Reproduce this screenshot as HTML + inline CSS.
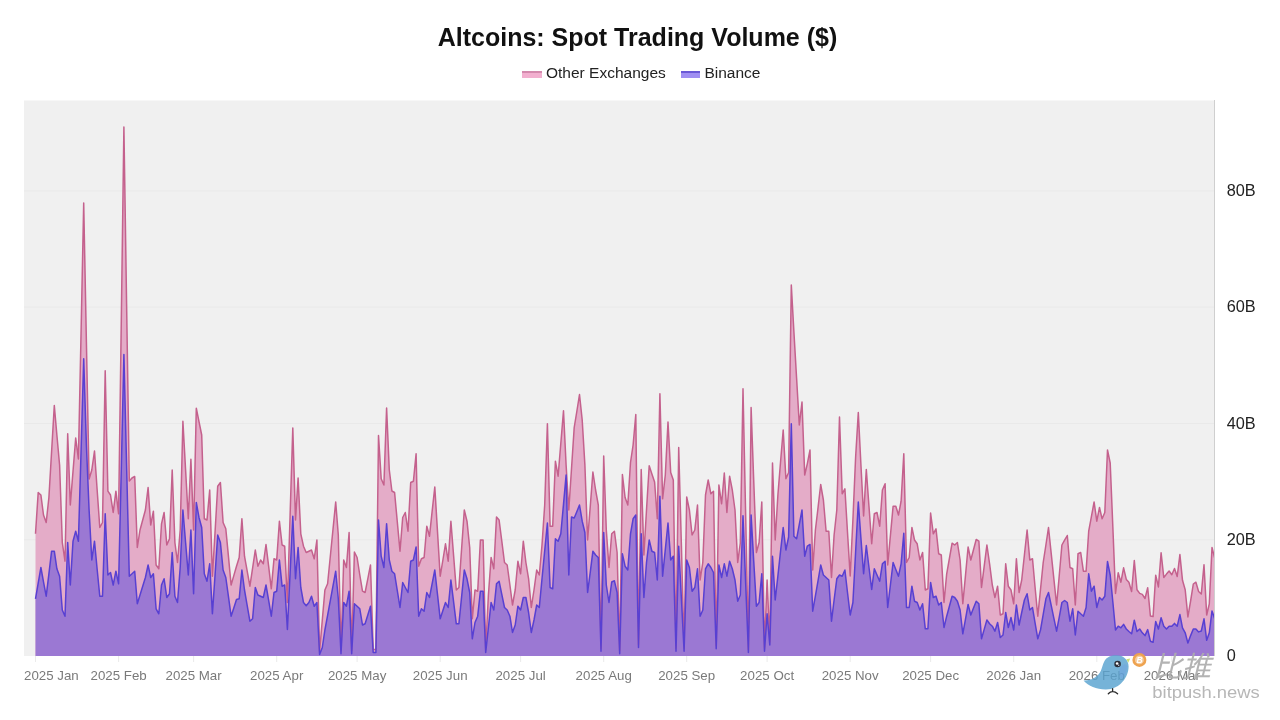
<!DOCTYPE html>
<html><head><meta charset="utf-8"><title>Altcoins: Spot Trading Volume ($)</title>
<style>
html,body{margin:0;padding:0;background:#fff;}
body{width:1280px;height:720px;position:relative;overflow:hidden;font-family:"Liberation Sans",sans-serif;}
.title{position:absolute;left:0;width:1275px;top:20.6px;text-align:center;font-size:25px;font-weight:bold;color:#111;letter-spacing:0px;line-height:32px;}
.legend{position:absolute;top:62.7px;left:522.3px;font-size:15.5px;color:#222;line-height:20px;white-space:nowrap;}
.legend span.sw{display:inline-block;width:19.5px;height:7px;vertical-align:middle;margin-right:4.2px;margin-top:2px;box-sizing:border-box;}
.xl{position:absolute;top:668.2px;font-size:13.3px;color:#7a7a7a;white-space:nowrap;line-height:16px;}
.xl.c{transform:translateX(-50%);}
.yl{position:absolute;left:1226.7px;font-size:16.3px;color:#222;line-height:20px;}
.wm{position:absolute;color:#b5b5b5;}
</style></head><body>
<svg width="1280" height="720" viewBox="0 0 1280 720" style="position:absolute;left:0;top:0">
<rect x="24" y="100.5" width="1190.5" height="555.5" fill="#f0f0f0"/>
<line x1="24" x2="1214" y1="539.8" y2="539.8" stroke="#e9e9e9" stroke-width="1"/>
<line x1="24" x2="1214" y1="423.5" y2="423.5" stroke="#e9e9e9" stroke-width="1"/>
<line x1="24" x2="1214" y1="307.2" y2="307.2" stroke="#e9e9e9" stroke-width="1"/>
<line x1="24" x2="1214" y1="191.0" y2="191.0" stroke="#e9e9e9" stroke-width="1"/>
<defs><clipPath id="cp"><rect x="24" y="100" width="1190.3" height="557"/></clipPath></defs><g clip-path="url(#cp)">
<path d="M35.5 533.8L38.2 492.5L40.9 495.0L43.5 515.0L46.2 522.5L48.9 497.5L51.6 451.5L54.3 405.5L56.9 435.2L59.6 465.0L62.3 542.5L65.0 561.2L67.7 433.8L70.3 505.0L73.0 471.5L75.7 438.0L78.4 459.0L81.1 331.0L83.7 203.0L86.4 342.0L89.1 479.0L91.8 470.0L94.5 451.0L97.1 489.2L99.8 527.5L102.5 522.5L105.2 370.8L107.9 491.2L110.5 495.0L113.2 512.5L115.9 491.2L118.6 513.8L121.3 320.4L123.9 127.0L126.6 304.0L129.3 481.0L132.0 478.0L134.7 476.5L137.3 547.5L140.0 530.0L142.7 520.0L145.4 510.0L148.1 487.5L150.7 525.0L153.4 511.2L156.1 565.0L158.8 568.8L161.5 523.8L164.1 512.5L166.8 545.0L169.5 538.8L172.2 470.0L174.9 542.5L177.5 562.5L180.2 530.0L182.9 421.2L185.6 470.0L188.3 518.8L190.9 459.2L193.6 530.0L196.3 408.2L199.0 421.6L201.7 435.0L204.3 518.8L207.0 520.0L209.7 490.0L212.4 576.2L215.1 531.2L217.7 486.2L220.4 482.5L223.1 522.5L225.8 528.8L228.5 556.9L231.1 585.0L233.8 575.6L236.5 566.2L239.2 557.5L241.9 518.8L244.5 556.2L247.2 571.2L249.9 586.2L252.6 568.1L255.3 550.0L257.9 566.2L260.6 560.0L263.3 563.8L266.0 544.5L268.7 566.6L271.3 588.8L274.0 558.8L276.7 560.0L279.4 521.2L282.1 545.0L284.7 546.2L287.4 602.5L290.1 515.2L292.8 428.0L295.5 520.0L298.1 478.0L300.8 533.8L303.5 546.2L306.2 552.5L308.9 551.2L311.5 550.0L314.2 558.8L316.9 540.0L319.6 651.5L322.3 620.0L324.9 590.0L327.6 583.8L330.3 556.5L333.0 529.2L335.7 502.0L338.3 535.0L341.0 650.8L343.7 560.0L346.4 567.5L349.1 532.5L351.7 650.8L354.4 552.0L357.1 557.5L359.8 575.0L362.5 591.2L365.1 592.5L367.8 578.8L370.5 565.0L373.2 649.5L375.9 649.5L378.5 435.5L381.2 478.8L383.9 485.0L386.6 408.0L389.3 470.0L391.9 491.0L394.6 492.5L397.3 521.9L400.0 551.2L402.7 517.5L405.3 512.5L408.0 531.2L410.7 482.5L413.4 481.2L416.1 453.8L418.7 566.2L421.4 558.8L424.1 557.5L426.8 526.2L429.5 536.2L432.1 511.6L434.8 487.0L437.5 531.6L440.2 576.2L442.9 560.0L445.5 543.8L448.2 561.2L450.9 521.2L453.6 555.6L456.3 590.0L458.9 587.5L461.6 548.8L464.3 510.0L467.0 521.2L469.7 547.5L472.3 618.8L475.0 590.0L477.7 591.2L480.4 540.0L483.1 540.0L485.7 649.5L488.4 595.0L491.1 557.5L493.8 568.8L496.5 517.0L499.1 520.0L501.8 541.2L504.5 562.5L507.2 565.0L509.9 585.0L512.5 605.0L515.2 590.0L517.9 561.2L520.6 573.8L523.3 541.2L525.9 562.5L528.6 578.8L531.3 607.5L534.0 590.0L536.7 570.0L539.3 575.0L542.0 545.0L544.7 505.0L547.4 423.8L550.1 526.2L552.7 526.2L555.4 461.2L558.1 476.2L560.8 443.5L563.5 410.8L566.1 465.0L568.8 510.0L571.5 468.8L574.2 427.5L576.9 411.0L579.5 394.5L582.2 420.0L584.9 465.0L587.6 540.0L590.3 506.0L592.9 472.0L595.6 490.0L598.3 505.0L601.0 648.2L603.7 456.0L606.3 530.0L609.0 567.5L611.7 533.8L614.4 531.2L617.1 552.5L619.7 650.8L622.4 474.5L625.1 497.5L627.8 505.0L630.5 462.5L633.1 445.0L635.8 414.5L638.5 644.5L641.2 469.5L643.9 555.0L646.5 510.0L649.2 465.8L651.9 473.9L654.6 482.0L657.3 518.8L659.9 393.8L662.6 498.8L665.3 475.0L668.0 422.0L670.7 472.5L673.3 480.0L676.0 648.2L678.7 447.5L681.4 545.2L684.1 648.2L686.7 497.0L689.4 510.0L692.1 535.0L694.8 530.0L697.5 505.0L700.1 580.0L702.8 562.5L705.5 495.0L708.2 480.0L710.9 493.8L713.5 491.2L716.2 645.8L718.9 485.0L721.6 503.8L724.3 473.0L726.9 512.5L729.6 476.2L732.3 490.0L735.0 510.0L737.7 562.5L740.3 543.0L743.0 388.8L745.7 516.9L748.4 649.5L751.1 407.5L753.7 480.0L756.4 552.5L759.1 542.5L761.8 502.0L764.5 648.2L767.1 580.0L769.8 642.0L772.5 463.0L775.2 540.0L777.9 495.0L780.5 462.5L783.2 430.0L785.9 478.8L788.6 472.5L791.3 285.0L793.9 331.7L796.6 378.3L799.3 425.0L802.0 402.0L804.7 475.0L807.3 463.8L810.0 450.0L812.7 570.0L815.4 530.0L818.1 507.2L820.7 484.5L823.4 500.0L826.1 531.2L828.8 531.2L831.5 577.5L834.1 535.0L836.8 510.0L839.5 417.0L842.2 493.8L844.9 488.8L847.5 532.4L850.2 576.0L852.9 520.0L855.6 457.5L858.3 412.5L860.9 464.2L863.6 516.0L866.3 469.5L869.0 506.6L871.7 543.8L874.3 513.8L877.0 512.5L879.7 526.2L882.4 490.0L885.1 483.8L887.7 565.0L890.4 535.6L893.1 506.2L895.8 506.2L898.5 515.0L901.1 501.2L903.8 453.8L906.5 562.5L909.2 557.5L911.9 527.5L914.5 540.0L917.2 543.8L919.9 560.0L922.6 552.5L925.3 590.0L927.9 588.8L930.6 513.0L933.3 533.8L936.0 528.8L938.7 553.8L941.3 555.0L944.0 602.5L946.7 573.8L949.4 558.5L952.1 543.2L954.7 545.0L957.4 542.5L960.1 560.0L962.8 603.8L965.5 575.4L968.1 547.0L970.8 560.0L973.5 549.8L976.2 539.5L978.9 541.2L981.5 587.5L984.2 566.2L986.9 545.0L989.6 563.8L992.3 585.0L994.9 597.5L997.6 586.2L1000.3 615.0L1003.0 613.8L1005.7 563.8L1008.3 586.2L1011.0 590.0L1013.7 603.8L1016.4 558.8L1019.1 592.5L1021.7 580.0L1024.4 555.0L1027.1 530.0L1029.8 560.0L1032.5 558.8L1035.1 587.5L1037.8 616.2L1040.5 589.4L1043.2 562.5L1045.9 545.0L1048.5 527.5L1051.2 553.3L1053.9 579.2L1056.6 605.0L1059.3 575.0L1061.9 545.0L1064.6 540.2L1067.3 535.5L1070.0 567.5L1072.7 568.8L1075.3 605.0L1078.0 553.8L1080.7 552.5L1083.4 571.2L1086.1 571.2L1088.7 531.2L1091.4 516.6L1094.1 502.0L1096.8 521.2L1099.5 507.5L1102.1 518.8L1104.8 512.5L1107.5 450.0L1110.2 463.0L1112.9 528.2L1115.5 593.4L1118.2 572.8L1120.9 582.2L1123.6 567.8L1126.3 579.4L1128.9 582.2L1131.6 591.5L1134.3 560.6L1137.0 589.7L1139.7 593.4L1142.3 594.4L1145.0 598.5L1147.7 587.8L1150.4 616.0L1153.1 616.5L1155.7 575.2L1158.4 586.9L1161.1 552.8L1163.8 577.5L1166.5 574.1L1169.1 571.0L1171.8 574.7L1174.5 568.5L1177.2 576.5L1179.9 554.6L1182.5 580.3L1185.2 589.7L1187.9 616.9L1190.6 601.0L1193.3 584.0L1195.9 582.2L1198.6 591.5L1201.3 594.0L1204.0 564.8L1206.7 615.0L1209.3 603.8L1212.0 547.5L1214.7 558.0L1214.7 656L35.5 656Z" fill="#e4acc8" stroke="none"/>
<path d="M35.5 598.8L38.2 583.1L40.9 567.5L43.5 581.9L46.2 596.2L48.9 573.8L51.6 551.2L54.3 551.2L56.9 568.8L59.6 576.2L62.3 610.0L65.0 616.2L67.7 542.5L70.3 585.0L73.0 541.2L75.7 531.2L78.4 541.2L81.1 450.0L83.7 358.8L86.4 445.0L89.1 510.0L91.8 560.0L94.5 541.2L97.1 568.8L99.8 596.2L102.5 596.2L105.2 513.8L107.9 575.0L110.5 572.5L113.2 585.0L115.9 571.2L118.6 583.8L121.3 469.1L123.9 354.5L126.6 465.4L129.3 576.2L132.0 573.8L134.7 571.2L137.3 603.8L140.0 595.0L142.7 586.2L145.4 577.5L148.1 565.0L150.7 577.5L153.4 573.8L156.1 608.8L158.8 613.8L161.5 585.0L164.1 578.8L166.8 597.5L169.5 593.8L172.2 552.5L174.9 596.2L177.5 602.5L180.2 567.5L182.9 510.0L185.6 542.5L188.3 575.0L190.9 530.0L193.6 593.8L196.3 502.5L199.0 517.5L201.7 527.5L204.3 573.8L207.0 581.2L209.7 563.8L212.4 613.8L215.1 574.4L217.7 535.0L220.4 542.5L223.1 570.0L225.8 577.5L228.5 596.9L231.1 616.2L233.8 607.9L236.5 599.5L239.2 598.8L241.9 570.0L244.5 590.0L247.2 605.6L249.9 621.2L252.6 618.8L255.3 587.5L257.9 595.0L260.6 596.2L263.3 597.5L266.0 585.0L268.7 600.6L271.3 616.2L274.0 592.5L276.7 591.2L279.4 560.0L282.1 586.2L284.7 585.0L287.4 629.5L290.1 572.9L292.8 516.2L295.5 578.8L298.1 547.5L300.8 587.5L303.5 602.5L306.2 605.8L308.9 602.5L311.5 596.2L314.2 606.2L316.9 602.5L319.6 654.5L322.3 647.5L324.9 630.0L327.6 615.3L330.3 600.6L333.0 585.9L335.7 571.2L338.3 598.8L341.0 653.8L343.7 602.5L346.4 606.2L349.1 591.2L351.7 653.8L354.4 603.8L357.1 606.2L359.8 608.8L362.5 625.0L365.1 623.8L367.8 615.0L370.5 606.2L373.2 652.5L375.9 652.5L378.5 520.0L381.2 556.2L383.9 567.5L386.6 523.8L389.3 560.0L391.9 571.2L394.6 573.8L397.3 590.6L400.0 607.5L402.7 582.5L405.3 587.5L408.0 592.5L410.7 561.2L413.4 560.0L416.1 547.0L418.7 616.2L421.4 608.8L424.1 611.2L426.8 592.5L429.5 597.5L432.1 583.8L434.8 570.0L437.5 594.4L440.2 618.8L442.9 610.6L445.5 602.5L448.2 607.5L450.9 580.0L453.6 601.9L456.3 623.8L458.9 623.8L461.6 596.9L464.3 570.0L467.0 578.8L469.7 592.5L472.3 638.8L475.0 622.5L477.7 616.2L480.4 591.2L483.1 591.2L485.7 652.5L488.4 627.5L491.1 602.5L493.8 610.0L496.5 583.8L499.1 581.2L501.8 594.4L504.5 607.5L507.2 610.0L509.9 616.2L512.5 632.5L515.2 625.0L517.9 606.2L520.6 610.0L523.3 597.5L525.9 597.5L528.6 612.5L531.3 632.5L534.0 620.0L536.7 605.0L539.3 607.5L542.0 578.8L544.7 550.9L547.4 523.0L550.1 587.5L552.7 588.8L555.4 538.8L558.1 541.2L560.8 533.8L563.5 504.4L566.1 475.0L568.8 575.0L571.5 517.0L574.2 518.0L576.9 511.5L579.5 505.0L582.2 521.2L584.9 532.5L587.6 592.5L590.3 571.9L592.9 551.2L595.6 555.0L598.3 557.5L601.0 651.2L603.7 532.5L606.3 585.0L609.0 602.5L611.7 582.0L614.4 580.8L617.1 592.5L619.7 653.8L622.4 553.8L625.1 566.2L627.8 570.0L630.5 533.8L633.1 518.8L635.8 515.0L638.5 647.5L641.2 533.8L643.9 597.5L646.5 562.5L649.2 540.0L651.9 551.2L654.6 552.5L657.3 580.0L659.9 496.2L662.6 576.2L665.3 549.6L668.0 523.0L670.7 560.0L673.3 556.2L676.0 651.2L678.7 546.2L681.4 598.8L684.1 651.2L686.7 560.0L689.4 567.5L692.1 591.2L694.8 587.5L697.5 568.8L700.1 616.2L702.8 610.0L705.5 568.8L708.2 563.8L710.9 567.5L713.5 572.5L716.2 648.8L718.9 565.0L721.6 577.5L724.3 563.8L726.9 576.2L729.6 561.2L732.3 568.8L735.0 580.0L737.7 601.2L740.3 595.0L743.0 515.8L745.7 584.1L748.4 652.5L751.1 515.0L753.7 560.6L756.4 606.2L759.1 602.5L761.8 573.8L764.5 651.2L767.1 613.8L769.8 645.0L772.5 556.2L775.2 600.0L777.9 575.8L780.5 551.7L783.2 527.5L785.9 550.0L788.6 537.0L791.3 423.8L793.9 536.2L796.6 538.8L799.3 524.4L802.0 510.0L804.7 556.2L807.3 546.2L810.0 544.5L812.7 611.2L815.4 595.8L818.1 580.4L820.7 565.0L823.4 575.0L826.1 577.5L828.8 580.0L831.5 621.2L834.1 600.0L836.8 578.8L839.5 575.0L842.2 576.2L844.9 570.0L847.5 592.5L850.2 615.0L852.9 602.5L855.6 552.2L858.3 502.0L860.9 537.9L863.6 573.8L866.3 545.5L869.0 567.5L871.7 589.5L874.3 568.8L877.0 575.0L879.7 581.2L882.4 563.8L885.1 561.2L887.7 607.5L890.4 585.0L893.1 562.5L895.8 569.4L898.5 576.2L901.1 563.8L903.8 533.2L906.5 607.5L909.2 607.5L911.9 586.2L914.5 601.2L917.2 602.5L919.9 610.0L922.6 603.8L925.3 628.8L927.9 628.8L930.6 582.5L933.3 597.5L936.0 596.2L938.7 605.0L941.3 602.5L944.0 627.5L946.7 616.2L949.4 606.2L952.1 596.2L954.7 597.5L957.4 601.2L960.1 610.0L962.8 633.8L965.5 619.1L968.1 604.5L970.8 615.0L973.5 608.1L976.2 601.2L978.9 603.8L981.5 638.8L984.2 629.4L986.9 620.0L989.6 623.8L992.3 626.2L994.9 631.2L997.6 622.5L1000.3 637.5L1003.0 635.0L1005.7 612.5L1008.3 627.5L1011.0 617.5L1013.7 630.0L1016.4 605.0L1019.1 625.0L1021.7 612.5L1024.4 600.0L1027.1 593.8L1029.8 610.0L1032.5 607.5L1035.1 623.1L1037.8 638.8L1040.5 630.0L1043.2 614.4L1045.9 598.8L1048.5 592.5L1051.2 605.4L1053.9 618.3L1056.6 631.2L1059.3 616.9L1061.9 602.5L1064.6 600.5L1067.3 602.5L1070.0 621.2L1072.7 608.8L1075.3 635.0L1078.0 611.2L1080.7 613.8L1083.4 616.2L1086.1 607.5L1088.7 573.8L1091.4 591.2L1094.1 586.2L1096.8 607.5L1099.5 597.5L1102.1 600.0L1104.8 596.2L1107.5 561.5L1110.2 575.0L1112.9 602.5L1115.5 630.0L1118.2 626.2L1120.9 627.8L1123.6 624.4L1126.3 629.0L1128.9 631.5L1131.6 633.8L1134.3 620.2L1137.0 631.5L1139.7 629.0L1142.3 632.8L1145.0 635.6L1147.7 629.6L1150.4 641.2L1153.1 642.2L1155.7 621.5L1158.4 629.0L1161.1 617.8L1163.8 626.2L1166.5 629.0L1169.1 626.2L1171.8 626.2L1174.5 623.4L1177.2 626.2L1179.9 614.6L1182.5 627.8L1185.2 632.8L1187.9 643.1L1190.6 635.6L1193.3 629.0L1195.9 629.0L1198.6 631.9L1201.3 631.0L1204.0 618.8L1206.7 640.3L1209.3 632.8L1212.0 610.9L1214.7 618.8L1214.7 656L35.5 656Z" fill="#9b78d3" stroke="none"/>
<path d="M35.5 533.8L38.2 492.5L40.9 495.0L43.5 515.0L46.2 522.5L48.9 497.5L51.6 451.5L54.3 405.5L56.9 435.2L59.6 465.0L62.3 542.5L65.0 561.2L67.7 433.8L70.3 505.0L73.0 471.5L75.7 438.0L78.4 459.0L81.1 331.0L83.7 203.0L86.4 342.0L89.1 479.0L91.8 470.0L94.5 451.0L97.1 489.2L99.8 527.5L102.5 522.5L105.2 370.8L107.9 491.2L110.5 495.0L113.2 512.5L115.9 491.2L118.6 513.8L121.3 320.4L123.9 127.0L126.6 304.0L129.3 481.0L132.0 478.0L134.7 476.5L137.3 547.5L140.0 530.0L142.7 520.0L145.4 510.0L148.1 487.5L150.7 525.0L153.4 511.2L156.1 565.0L158.8 568.8L161.5 523.8L164.1 512.5L166.8 545.0L169.5 538.8L172.2 470.0L174.9 542.5L177.5 562.5L180.2 530.0L182.9 421.2L185.6 470.0L188.3 518.8L190.9 459.2L193.6 530.0L196.3 408.2L199.0 421.6L201.7 435.0L204.3 518.8L207.0 520.0L209.7 490.0L212.4 576.2L215.1 531.2L217.7 486.2L220.4 482.5L223.1 522.5L225.8 528.8L228.5 556.9L231.1 585.0L233.8 575.6L236.5 566.2L239.2 557.5L241.9 518.8L244.5 556.2L247.2 571.2L249.9 586.2L252.6 568.1L255.3 550.0L257.9 566.2L260.6 560.0L263.3 563.8L266.0 544.5L268.7 566.6L271.3 588.8L274.0 558.8L276.7 560.0L279.4 521.2L282.1 545.0L284.7 546.2L287.4 602.5L290.1 515.2L292.8 428.0L295.5 520.0L298.1 478.0L300.8 533.8L303.5 546.2L306.2 552.5L308.9 551.2L311.5 550.0L314.2 558.8L316.9 540.0L319.6 651.5L322.3 620.0L324.9 590.0L327.6 583.8L330.3 556.5L333.0 529.2L335.7 502.0L338.3 535.0L341.0 650.8L343.7 560.0L346.4 567.5L349.1 532.5L351.7 650.8L354.4 552.0L357.1 557.5L359.8 575.0L362.5 591.2L365.1 592.5L367.8 578.8L370.5 565.0L373.2 649.5L375.9 649.5L378.5 435.5L381.2 478.8L383.9 485.0L386.6 408.0L389.3 470.0L391.9 491.0L394.6 492.5L397.3 521.9L400.0 551.2L402.7 517.5L405.3 512.5L408.0 531.2L410.7 482.5L413.4 481.2L416.1 453.8L418.7 566.2L421.4 558.8L424.1 557.5L426.8 526.2L429.5 536.2L432.1 511.6L434.8 487.0L437.5 531.6L440.2 576.2L442.9 560.0L445.5 543.8L448.2 561.2L450.9 521.2L453.6 555.6L456.3 590.0L458.9 587.5L461.6 548.8L464.3 510.0L467.0 521.2L469.7 547.5L472.3 618.8L475.0 590.0L477.7 591.2L480.4 540.0L483.1 540.0L485.7 649.5L488.4 595.0L491.1 557.5L493.8 568.8L496.5 517.0L499.1 520.0L501.8 541.2L504.5 562.5L507.2 565.0L509.9 585.0L512.5 605.0L515.2 590.0L517.9 561.2L520.6 573.8L523.3 541.2L525.9 562.5L528.6 578.8L531.3 607.5L534.0 590.0L536.7 570.0L539.3 575.0L542.0 545.0L544.7 505.0L547.4 423.8L550.1 526.2L552.7 526.2L555.4 461.2L558.1 476.2L560.8 443.5L563.5 410.8L566.1 465.0L568.8 510.0L571.5 468.8L574.2 427.5L576.9 411.0L579.5 394.5L582.2 420.0L584.9 465.0L587.6 540.0L590.3 506.0L592.9 472.0L595.6 490.0L598.3 505.0L601.0 648.2L603.7 456.0L606.3 530.0L609.0 567.5L611.7 533.8L614.4 531.2L617.1 552.5L619.7 650.8L622.4 474.5L625.1 497.5L627.8 505.0L630.5 462.5L633.1 445.0L635.8 414.5L638.5 644.5L641.2 469.5L643.9 555.0L646.5 510.0L649.2 465.8L651.9 473.9L654.6 482.0L657.3 518.8L659.9 393.8L662.6 498.8L665.3 475.0L668.0 422.0L670.7 472.5L673.3 480.0L676.0 648.2L678.7 447.5L681.4 545.2L684.1 648.2L686.7 497.0L689.4 510.0L692.1 535.0L694.8 530.0L697.5 505.0L700.1 580.0L702.8 562.5L705.5 495.0L708.2 480.0L710.9 493.8L713.5 491.2L716.2 645.8L718.9 485.0L721.6 503.8L724.3 473.0L726.9 512.5L729.6 476.2L732.3 490.0L735.0 510.0L737.7 562.5L740.3 543.0L743.0 388.8L745.7 516.9L748.4 649.5L751.1 407.5L753.7 480.0L756.4 552.5L759.1 542.5L761.8 502.0L764.5 648.2L767.1 580.0L769.8 642.0L772.5 463.0L775.2 540.0L777.9 495.0L780.5 462.5L783.2 430.0L785.9 478.8L788.6 472.5L791.3 285.0L793.9 331.7L796.6 378.3L799.3 425.0L802.0 402.0L804.7 475.0L807.3 463.8L810.0 450.0L812.7 570.0L815.4 530.0L818.1 507.2L820.7 484.5L823.4 500.0L826.1 531.2L828.8 531.2L831.5 577.5L834.1 535.0L836.8 510.0L839.5 417.0L842.2 493.8L844.9 488.8L847.5 532.4L850.2 576.0L852.9 520.0L855.6 457.5L858.3 412.5L860.9 464.2L863.6 516.0L866.3 469.5L869.0 506.6L871.7 543.8L874.3 513.8L877.0 512.5L879.7 526.2L882.4 490.0L885.1 483.8L887.7 565.0L890.4 535.6L893.1 506.2L895.8 506.2L898.5 515.0L901.1 501.2L903.8 453.8L906.5 562.5L909.2 557.5L911.9 527.5L914.5 540.0L917.2 543.8L919.9 560.0L922.6 552.5L925.3 590.0L927.9 588.8L930.6 513.0L933.3 533.8L936.0 528.8L938.7 553.8L941.3 555.0L944.0 602.5L946.7 573.8L949.4 558.5L952.1 543.2L954.7 545.0L957.4 542.5L960.1 560.0L962.8 603.8L965.5 575.4L968.1 547.0L970.8 560.0L973.5 549.8L976.2 539.5L978.9 541.2L981.5 587.5L984.2 566.2L986.9 545.0L989.6 563.8L992.3 585.0L994.9 597.5L997.6 586.2L1000.3 615.0L1003.0 613.8L1005.7 563.8L1008.3 586.2L1011.0 590.0L1013.7 603.8L1016.4 558.8L1019.1 592.5L1021.7 580.0L1024.4 555.0L1027.1 530.0L1029.8 560.0L1032.5 558.8L1035.1 587.5L1037.8 616.2L1040.5 589.4L1043.2 562.5L1045.9 545.0L1048.5 527.5L1051.2 553.3L1053.9 579.2L1056.6 605.0L1059.3 575.0L1061.9 545.0L1064.6 540.2L1067.3 535.5L1070.0 567.5L1072.7 568.8L1075.3 605.0L1078.0 553.8L1080.7 552.5L1083.4 571.2L1086.1 571.2L1088.7 531.2L1091.4 516.6L1094.1 502.0L1096.8 521.2L1099.5 507.5L1102.1 518.8L1104.8 512.5L1107.5 450.0L1110.2 463.0L1112.9 528.2L1115.5 593.4L1118.2 572.8L1120.9 582.2L1123.6 567.8L1126.3 579.4L1128.9 582.2L1131.6 591.5L1134.3 560.6L1137.0 589.7L1139.7 593.4L1142.3 594.4L1145.0 598.5L1147.7 587.8L1150.4 616.0L1153.1 616.5L1155.7 575.2L1158.4 586.9L1161.1 552.8L1163.8 577.5L1166.5 574.1L1169.1 571.0L1171.8 574.7L1174.5 568.5L1177.2 576.5L1179.9 554.6L1182.5 580.3L1185.2 589.7L1187.9 616.9L1190.6 601.0L1193.3 584.0L1195.9 582.2L1198.6 591.5L1201.3 594.0L1204.0 564.8L1206.7 615.0L1209.3 603.8L1212.0 547.5L1214.7 558.0" fill="none" stroke="#c4618d" stroke-width="1.5" stroke-linejoin="round"/>
<path d="M35.5 598.8L38.2 583.1L40.9 567.5L43.5 581.9L46.2 596.2L48.9 573.8L51.6 551.2L54.3 551.2L56.9 568.8L59.6 576.2L62.3 610.0L65.0 616.2L67.7 542.5L70.3 585.0L73.0 541.2L75.7 531.2L78.4 541.2L81.1 450.0L83.7 358.8L86.4 445.0L89.1 510.0L91.8 560.0L94.5 541.2L97.1 568.8L99.8 596.2L102.5 596.2L105.2 513.8L107.9 575.0L110.5 572.5L113.2 585.0L115.9 571.2L118.6 583.8L121.3 469.1L123.9 354.5L126.6 465.4L129.3 576.2L132.0 573.8L134.7 571.2L137.3 603.8L140.0 595.0L142.7 586.2L145.4 577.5L148.1 565.0L150.7 577.5L153.4 573.8L156.1 608.8L158.8 613.8L161.5 585.0L164.1 578.8L166.8 597.5L169.5 593.8L172.2 552.5L174.9 596.2L177.5 602.5L180.2 567.5L182.9 510.0L185.6 542.5L188.3 575.0L190.9 530.0L193.6 593.8L196.3 502.5L199.0 517.5L201.7 527.5L204.3 573.8L207.0 581.2L209.7 563.8L212.4 613.8L215.1 574.4L217.7 535.0L220.4 542.5L223.1 570.0L225.8 577.5L228.5 596.9L231.1 616.2L233.8 607.9L236.5 599.5L239.2 598.8L241.9 570.0L244.5 590.0L247.2 605.6L249.9 621.2L252.6 618.8L255.3 587.5L257.9 595.0L260.6 596.2L263.3 597.5L266.0 585.0L268.7 600.6L271.3 616.2L274.0 592.5L276.7 591.2L279.4 560.0L282.1 586.2L284.7 585.0L287.4 629.5L290.1 572.9L292.8 516.2L295.5 578.8L298.1 547.5L300.8 587.5L303.5 602.5L306.2 605.8L308.9 602.5L311.5 596.2L314.2 606.2L316.9 602.5L319.6 654.5L322.3 647.5L324.9 630.0L327.6 615.3L330.3 600.6L333.0 585.9L335.7 571.2L338.3 598.8L341.0 653.8L343.7 602.5L346.4 606.2L349.1 591.2L351.7 653.8L354.4 603.8L357.1 606.2L359.8 608.8L362.5 625.0L365.1 623.8L367.8 615.0L370.5 606.2L373.2 652.5L375.9 652.5L378.5 520.0L381.2 556.2L383.9 567.5L386.6 523.8L389.3 560.0L391.9 571.2L394.6 573.8L397.3 590.6L400.0 607.5L402.7 582.5L405.3 587.5L408.0 592.5L410.7 561.2L413.4 560.0L416.1 547.0L418.7 616.2L421.4 608.8L424.1 611.2L426.8 592.5L429.5 597.5L432.1 583.8L434.8 570.0L437.5 594.4L440.2 618.8L442.9 610.6L445.5 602.5L448.2 607.5L450.9 580.0L453.6 601.9L456.3 623.8L458.9 623.8L461.6 596.9L464.3 570.0L467.0 578.8L469.7 592.5L472.3 638.8L475.0 622.5L477.7 616.2L480.4 591.2L483.1 591.2L485.7 652.5L488.4 627.5L491.1 602.5L493.8 610.0L496.5 583.8L499.1 581.2L501.8 594.4L504.5 607.5L507.2 610.0L509.9 616.2L512.5 632.5L515.2 625.0L517.9 606.2L520.6 610.0L523.3 597.5L525.9 597.5L528.6 612.5L531.3 632.5L534.0 620.0L536.7 605.0L539.3 607.5L542.0 578.8L544.7 550.9L547.4 523.0L550.1 587.5L552.7 588.8L555.4 538.8L558.1 541.2L560.8 533.8L563.5 504.4L566.1 475.0L568.8 575.0L571.5 517.0L574.2 518.0L576.9 511.5L579.5 505.0L582.2 521.2L584.9 532.5L587.6 592.5L590.3 571.9L592.9 551.2L595.6 555.0L598.3 557.5L601.0 651.2L603.7 532.5L606.3 585.0L609.0 602.5L611.7 582.0L614.4 580.8L617.1 592.5L619.7 653.8L622.4 553.8L625.1 566.2L627.8 570.0L630.5 533.8L633.1 518.8L635.8 515.0L638.5 647.5L641.2 533.8L643.9 597.5L646.5 562.5L649.2 540.0L651.9 551.2L654.6 552.5L657.3 580.0L659.9 496.2L662.6 576.2L665.3 549.6L668.0 523.0L670.7 560.0L673.3 556.2L676.0 651.2L678.7 546.2L681.4 598.8L684.1 651.2L686.7 560.0L689.4 567.5L692.1 591.2L694.8 587.5L697.5 568.8L700.1 616.2L702.8 610.0L705.5 568.8L708.2 563.8L710.9 567.5L713.5 572.5L716.2 648.8L718.9 565.0L721.6 577.5L724.3 563.8L726.9 576.2L729.6 561.2L732.3 568.8L735.0 580.0L737.7 601.2L740.3 595.0L743.0 515.8L745.7 584.1L748.4 652.5L751.1 515.0L753.7 560.6L756.4 606.2L759.1 602.5L761.8 573.8L764.5 651.2L767.1 613.8L769.8 645.0L772.5 556.2L775.2 600.0L777.9 575.8L780.5 551.7L783.2 527.5L785.9 550.0L788.6 537.0L791.3 423.8L793.9 536.2L796.6 538.8L799.3 524.4L802.0 510.0L804.7 556.2L807.3 546.2L810.0 544.5L812.7 611.2L815.4 595.8L818.1 580.4L820.7 565.0L823.4 575.0L826.1 577.5L828.8 580.0L831.5 621.2L834.1 600.0L836.8 578.8L839.5 575.0L842.2 576.2L844.9 570.0L847.5 592.5L850.2 615.0L852.9 602.5L855.6 552.2L858.3 502.0L860.9 537.9L863.6 573.8L866.3 545.5L869.0 567.5L871.7 589.5L874.3 568.8L877.0 575.0L879.7 581.2L882.4 563.8L885.1 561.2L887.7 607.5L890.4 585.0L893.1 562.5L895.8 569.4L898.5 576.2L901.1 563.8L903.8 533.2L906.5 607.5L909.2 607.5L911.9 586.2L914.5 601.2L917.2 602.5L919.9 610.0L922.6 603.8L925.3 628.8L927.9 628.8L930.6 582.5L933.3 597.5L936.0 596.2L938.7 605.0L941.3 602.5L944.0 627.5L946.7 616.2L949.4 606.2L952.1 596.2L954.7 597.5L957.4 601.2L960.1 610.0L962.8 633.8L965.5 619.1L968.1 604.5L970.8 615.0L973.5 608.1L976.2 601.2L978.9 603.8L981.5 638.8L984.2 629.4L986.9 620.0L989.6 623.8L992.3 626.2L994.9 631.2L997.6 622.5L1000.3 637.5L1003.0 635.0L1005.7 612.5L1008.3 627.5L1011.0 617.5L1013.7 630.0L1016.4 605.0L1019.1 625.0L1021.7 612.5L1024.4 600.0L1027.1 593.8L1029.8 610.0L1032.5 607.5L1035.1 623.1L1037.8 638.8L1040.5 630.0L1043.2 614.4L1045.9 598.8L1048.5 592.5L1051.2 605.4L1053.9 618.3L1056.6 631.2L1059.3 616.9L1061.9 602.5L1064.6 600.5L1067.3 602.5L1070.0 621.2L1072.7 608.8L1075.3 635.0L1078.0 611.2L1080.7 613.8L1083.4 616.2L1086.1 607.5L1088.7 573.8L1091.4 591.2L1094.1 586.2L1096.8 607.5L1099.5 597.5L1102.1 600.0L1104.8 596.2L1107.5 561.5L1110.2 575.0L1112.9 602.5L1115.5 630.0L1118.2 626.2L1120.9 627.8L1123.6 624.4L1126.3 629.0L1128.9 631.5L1131.6 633.8L1134.3 620.2L1137.0 631.5L1139.7 629.0L1142.3 632.8L1145.0 635.6L1147.7 629.6L1150.4 641.2L1153.1 642.2L1155.7 621.5L1158.4 629.0L1161.1 617.8L1163.8 626.2L1166.5 629.0L1169.1 626.2L1171.8 626.2L1174.5 623.4L1177.2 626.2L1179.9 614.6L1182.5 627.8L1185.2 632.8L1187.9 643.1L1190.6 635.6L1193.3 629.0L1195.9 629.0L1198.6 631.9L1201.3 631.0L1204.0 618.8L1206.7 640.3L1209.3 632.8L1212.0 610.9L1214.7 618.8" fill="none" stroke="#5840d2" stroke-width="1.5" stroke-linejoin="round"/>
</g>
<line x1="1214.5" x2="1214.5" y1="100" y2="656" stroke="#cfcfcf" stroke-width="1"/>
<line x1="35.5" x2="35.5" y1="656" y2="662" stroke="#ebebeb" stroke-width="1"/>
<line x1="118.6" x2="118.6" y1="656" y2="662" stroke="#ebebeb" stroke-width="1"/>
<line x1="193.6" x2="193.6" y1="656" y2="662" stroke="#ebebeb" stroke-width="1"/>
<line x1="276.7" x2="276.7" y1="656" y2="662" stroke="#ebebeb" stroke-width="1"/>
<line x1="357.1" x2="357.1" y1="656" y2="662" stroke="#ebebeb" stroke-width="1"/>
<line x1="440.2" x2="440.2" y1="656" y2="662" stroke="#ebebeb" stroke-width="1"/>
<line x1="520.6" x2="520.6" y1="656" y2="662" stroke="#ebebeb" stroke-width="1"/>
<line x1="603.7" x2="603.7" y1="656" y2="662" stroke="#ebebeb" stroke-width="1"/>
<line x1="686.7" x2="686.7" y1="656" y2="662" stroke="#ebebeb" stroke-width="1"/>
<line x1="767.1" x2="767.1" y1="656" y2="662" stroke="#ebebeb" stroke-width="1"/>
<line x1="850.2" x2="850.2" y1="656" y2="662" stroke="#ebebeb" stroke-width="1"/>
<line x1="930.6" x2="930.6" y1="656" y2="662" stroke="#ebebeb" stroke-width="1"/>
<line x1="1013.7" x2="1013.7" y1="656" y2="662" stroke="#ebebeb" stroke-width="1"/>
<line x1="1096.8" x2="1096.8" y1="656" y2="662" stroke="#ebebeb" stroke-width="1"/>
<line x1="1171.8" x2="1171.8" y1="656" y2="662" stroke="#ebebeb" stroke-width="1"/>
</svg>
<div class="title">Altcoins: Spot Trading Volume ($)</div>
<div class="legend"><span class="sw" style="background:#f2afcf;border-top:2px solid #d489ad;"></span>Other Exchanges<span style="display:inline-block;width:15px"></span><span class="sw" style="background:#a08ff2;border-top:2px solid #6a58d6;"></span>Binance</div>
<div class="xl" style="left:24px;">2025 Jan</div>
<div class="xl c" style="left:118.6px;">2025 Feb</div>
<div class="xl c" style="left:193.6px;">2025 Mar</div>
<div class="xl c" style="left:276.7px;">2025 Apr</div>
<div class="xl c" style="left:357.1px;">2025 May</div>
<div class="xl c" style="left:440.2px;">2025 Jun</div>
<div class="xl c" style="left:520.6px;">2025 Jul</div>
<div class="xl c" style="left:603.7px;">2025 Aug</div>
<div class="xl c" style="left:686.7px;">2025 Sep</div>
<div class="xl c" style="left:767.1px;">2025 Oct</div>
<div class="xl c" style="left:850.2px;">2025 Nov</div>
<div class="xl c" style="left:930.6px;">2025 Dec</div>
<div class="xl c" style="left:1013.7px;">2026 Jan</div>
<div class="xl c" style="left:1096.8px;">2026 Feb</div>
<div class="xl c" style="left:1171.8px;">2026 Mar</div>
<div class="yl" style="top:180.2px;">80B</div>
<div class="yl" style="top:296.4px;">60B</div>
<div class="yl" style="top:412.7px;">40B</div>
<div class="yl" style="top:529.0px;">20B</div>
<div class="yl" style="top:645.2px;">0</div>
<svg width="1280" height="720" viewBox="0 0 1280 720" style="position:absolute;left:0;top:0;pointer-events:none">
<g>
<path d="M1083.5 680.5C1091 681 1098 677 1101 670.5C1102.5 666.5 1102.8 664 1104.5 661C1107 657 1111 655.3 1116.5 655.3C1123.5 655.3 1128.6 660 1128.6 666.5C1128.6 677 1120 689.3 1106 689.5C1096.5 689.6 1088.5 686 1083.5 680.5Z" fill="#58a2cf" fill-opacity="0.82"/>
<path d="M1119.5 669C1121.5 664.5 1125 663 1127 665C1127.5 670 1125 676 1121.5 679C1119.5 676 1118.8 672 1119.5 669Z" fill="#6f9fe6" fill-opacity="0.35"/>
<path d="M1126.4 659.2L1130.2 658.6L1128.2 662.8Z" fill="#c9dc62" fill-opacity="0.9"/>
<circle cx="1117.6" cy="664" r="3.3" fill="#2b2f3a"/>
<circle cx="1117.1" cy="663.5" r="1.3" fill="#ffffff"/>
<circle cx="1118.7" cy="665.2" r="0.7" fill="#d8d8e8"/>
<path d="M1112.6 688.6V691.6M1108.3 693.7Q1110.5 691.4 1112.6 691.6Q1115 691.4 1117.6 693.7" fill="none" stroke="#2a2a2a" stroke-width="1.3" stroke-linecap="round"/>
<circle cx="1139.4" cy="659.9" r="7" fill="#eea350"/>
<circle cx="1139.4" cy="659.9" r="4.4" fill="#f6cfa4"/>
<text x="1139.5" y="662.9" font-family="Liberation Sans, sans-serif" font-size="8.5" font-weight="bold" font-style="italic" fill="#ffffff" text-anchor="middle">B</text>
<text x="1153" y="676.8" font-family="'Liberation Sans','Noto Sans CJK SC',sans-serif" font-size="29" font-style="italic" font-weight="400" fill="#adadad" fill-opacity="0.92" letter-spacing="0">比推</text>
<text x="1152.3" y="698.4" font-family="'Liberation Sans',sans-serif" font-size="16" fill="#b7b7b7" textLength="107.5" lengthAdjust="spacingAndGlyphs">bitpush.news</text>
</g>
</svg>

</body></html>
